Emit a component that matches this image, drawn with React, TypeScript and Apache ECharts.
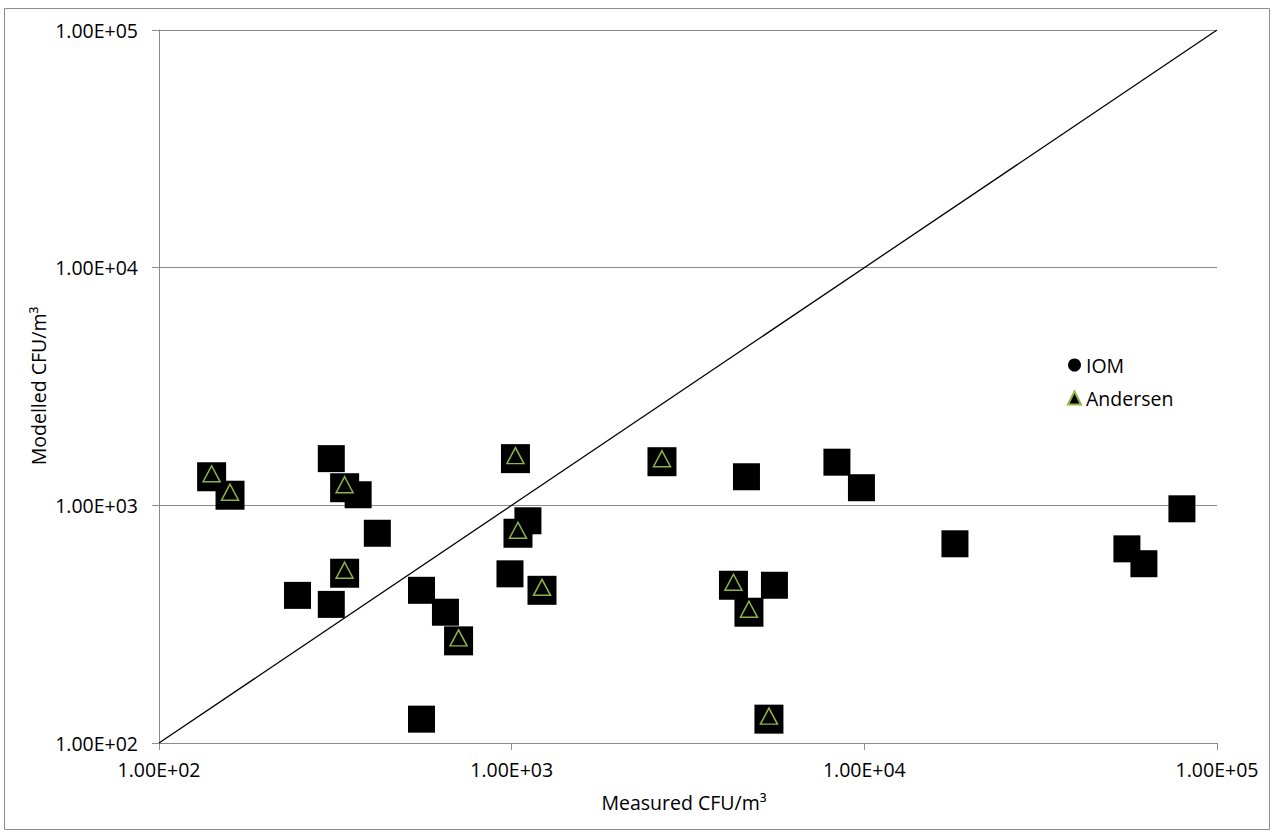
import React, { useEffect, useRef } from "react";
import * as echarts from "echarts";

const tickValues = [100, 1000, 10000, 100000];
const tickLabels = ["1.00E+02", "1.00E+03", "1.00E+04", "1.00E+05"];

const iomX = [308, 367, 416, 247, 308, 555, 649, 555, 1112, 989, 4632, 5560, 8361, 9813, 18070, 55530, 62050, 79530];
const iomY = [1572, 1108, 763, 418, 383, 439, 355, 126, 861, 515, 1319, 461, 1519, 1186, 689, 656, 568, 967];

const andersenX = [141, 159, 336, 336, 707, 1025, 1042, 1219, 2668, 4255, 4708, 5364];
const andersenY = [1319, 1103, 1186, 518, 269, 1572, 763, 439, 1526, 461, 355, 126];

const lineX = [100, 100000];
const lineY = [100, 100000];

const xTitle = "Measured CFU/m³";
const yTitle = "Modelled CFU/m³";

const FONT = "'Open Sans', sans-serif";

function labelFor(v: number): string {
  const i = tickValues.findIndex((t) => Math.abs(Math.log10(t) - Math.log10(v)) < 1e-6);
  return i >= 0 ? tickLabels[i] : "";
}

export default function App() {
  const ref = useRef<HTMLDivElement>(null);
  useEffect(() => {
    if (!ref.current) return;
    const chart = echarts.init(ref.current, null, { renderer: "svg" });
    const pairs = (xs: number[], ys: number[]) => xs.map((x, i) => [x, ys[i]]);
    chart.setOption({
      animation: false,
      backgroundColor: "#ffffff",
      grid: { left: 159, right: 57, top: 30, bottom: 90, containLabel: false },
      xAxis: {
        type: "log",
        logBase: 10,
        min: 100,
        max: 100000,
        axisLine: { show: true, lineStyle: { color: "#8c8c8c", width: 1 } },
        axisTick: { show: true, inside: false, length: 7, lineStyle: { color: "#8c8c8c" } },
        splitLine: { show: false },
        minorTick: { show: false },
        axisLabel: {
          formatter: (v: number) => labelFor(v),
          fontFamily: FONT,
          fontSize: 19.5,
          color: "#000",
          margin: 16,
        },
      },
      yAxis: {
        type: "log",
        logBase: 10,
        min: 100,
        max: 100000,
        axisLine: { show: true, lineStyle: { color: "#8c8c8c", width: 1 } },
        axisTick: { show: true, inside: false, length: 7, lineStyle: { color: "#8c8c8c" } },
        splitLine: { show: true, lineStyle: { color: "#8c8c8c", width: 1 } },
        axisLabel: {
          formatter: (v: number) => labelFor(v),
          fontFamily: FONT,
          fontSize: 19.5,
          color: "#000",
          margin: 21,
        },
      },
      legend: {
        orient: "vertical",
        left: 1062,
        top: 350,
        itemWidth: 13,
        itemHeight: 13,
        itemGap: 13,
        selectedMode: false,
        textStyle: { fontFamily: FONT, fontSize: 19.5, color: "#000" },
        data: [
          { name: "IOM", icon: "circle" },
          { name: "Andersen", icon: "triangle" },
        ],
      },
      graphic: [
        {
          type: "rect",
          silent: true,
          shape: { x: 4.5, y: 8.5, width: 1265, height: 821 },
          style: { fill: "none", stroke: "#8c8c8c", lineWidth: 1 },
        },
        {
          type: "text",
          x: 684,
          y: 802,
          style: { text: xTitle, font: `19.5px ${FONT}`, fill: "#000", align: "center", verticalAlign: "middle" },
        },
        {
          type: "text",
          x: 38,
          y: 386,
          rotation: Math.PI / 2,
          style: { text: yTitle, font: `19.5px ${FONT}`, fill: "#000", align: "center", verticalAlign: "middle" },
        },
      ],
      series: [
        {
          name: "1:1",
          type: "line",
          data: pairs(lineX, lineY),
          symbol: "none",
          silent: true,
          lineStyle: { color: "#000", width: 1.3 },
          z: 1,
        },
        {
          name: "IOM",
          type: "scatter",
          symbol: "rect",
          symbolSize: 27,
          data: pairs(iomX, iomY),
          itemStyle: { color: "#000", opacity: 1 },
          z: 2,
        },
        {
          name: "AndersenBg",
          type: "scatter",
          symbol: "rect",
          symbolSize: 29,
          data: pairs(andersenX, andersenY),
          itemStyle: { color: "#000", opacity: 1 },
          z: 3,
        },
        {
          name: "Andersen",
          type: "scatter",
          symbol: "triangle",
          symbolSize: [17, 16],
          symbolOffset: [0, -3],
          data: pairs(andersenX, andersenY),
          itemStyle: { color: "#000", borderColor: "#8fb446", borderWidth: 1.5, opacity: 1 },
          z: 4,
        },
      ],
    });
    return () => chart.dispose();
  }, []);
  return (
    <div
      ref={ref}
      style={{ position: "absolute", left: 0, top: 0, width: 1274, height: 833 }}
    />
  );
}
